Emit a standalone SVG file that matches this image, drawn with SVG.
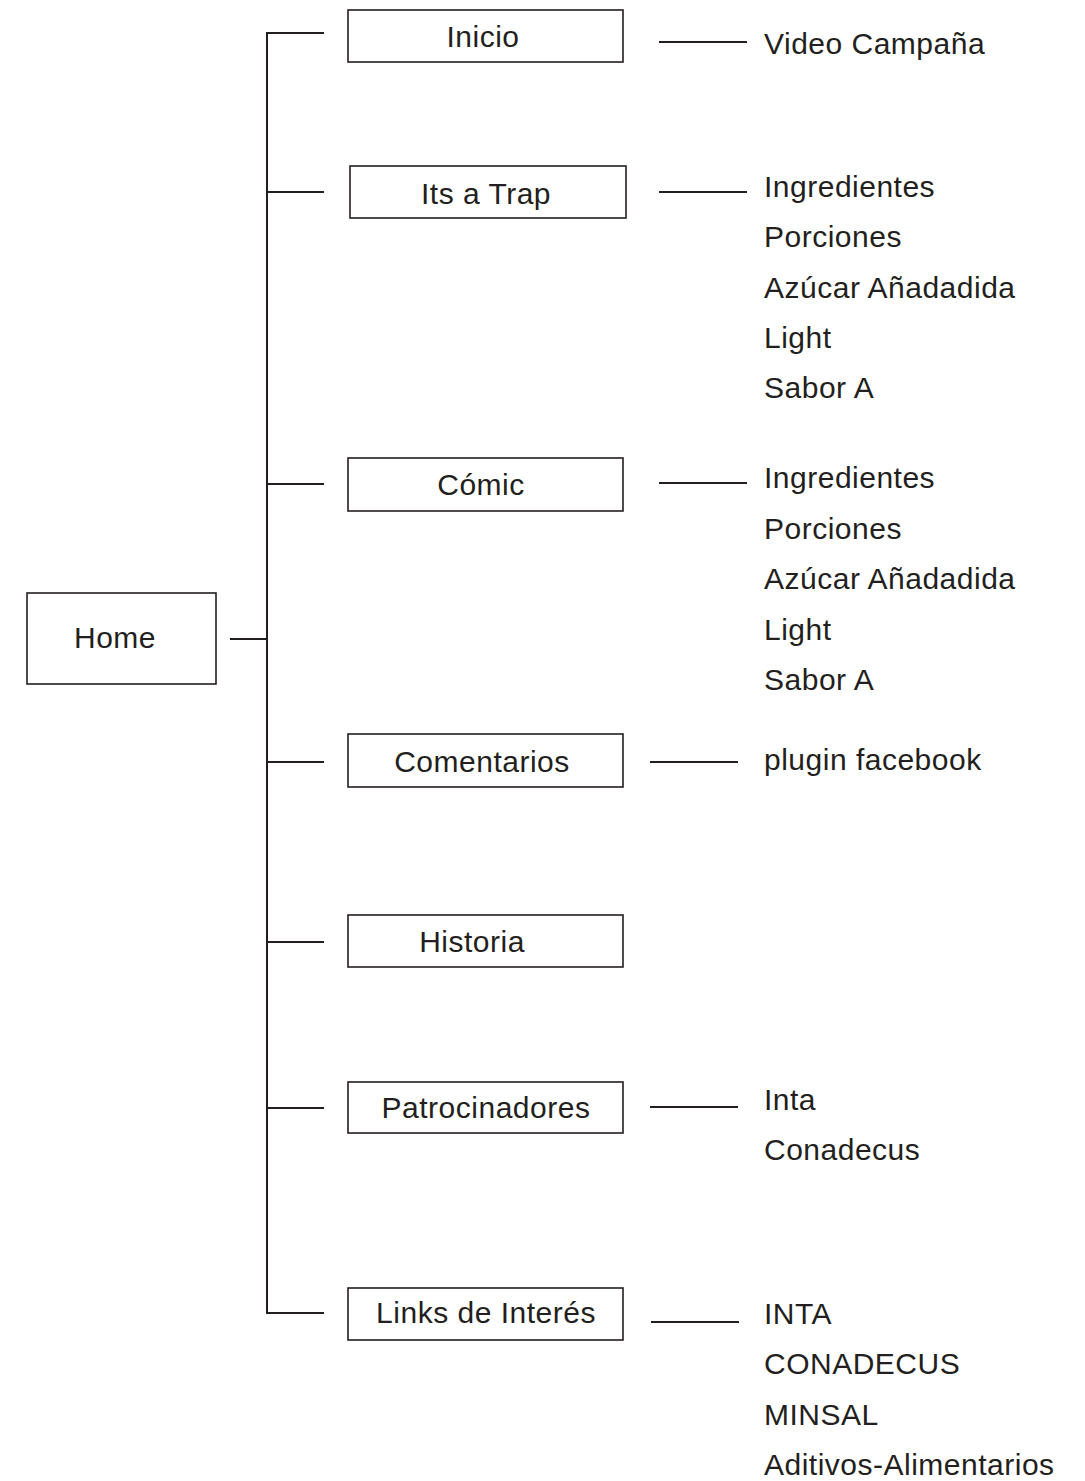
<svg xmlns="http://www.w3.org/2000/svg" width="1085" height="1481" viewBox="0 0 1085 1481">
  <style>
    .box { fill: #ffffff; stroke: #231f20; stroke-width: 1.6; }
    .wire { fill: none; stroke: #231f20; stroke-width: 2; }
    .lbl { font-family: "Liberation Sans", Arial, sans-serif; font-size: 30px; fill: #231f20; letter-spacing: 0.5px; }
    .mid { text-anchor: middle; }
  </style>
  <rect width="1085" height="1481" fill="#ffffff"/>

  <!-- connectors -->
  <g id="connectors" class="wire">
    <!-- trunk from Home to the section spine -->
    <path d="M230 639 H267"/>
    <path d="M267 33 V1313"/>
    <!-- spine to each section -->
    <path d="M266 33 H324"/>
    <path d="M267 192 H324"/>
    <path d="M267 484 H324"/>
    <path d="M267 762 H324"/>
    <path d="M267 942 H324"/>
    <path d="M267 1108 H324"/>
    <path d="M266 1313 H324"/>
    <!-- section to sub-items -->
    <path d="M659 42 H747"/>
    <path d="M659 192 H747"/>
    <path d="M659 483 H747"/>
    <path d="M650 762 H738"/>
    <path d="M650 1107 H738"/>
    <path d="M651 1322 H739"/>
  </g>

  <g id="home">
    <rect class="box" x="27" y="593" width="189" height="91"/>
    <text class="lbl mid" x="115" y="648">Home</text>
  </g>

  <g id="inicio">
    <rect class="box" x="348" y="10" width="275" height="52"/>
    <text class="lbl mid" x="483" y="47">Inicio</text>
    <text class="lbl" x="764" y="54">Video Campaña</text>
  </g>

  <g id="its-a-trap">
    <rect class="box" x="350" y="166" width="276" height="52"/>
    <text class="lbl mid" x="486" y="204">Its a Trap</text>
    <text class="lbl" x="764" y="197">Ingredientes</text>
    <text class="lbl" x="764" y="247">Porciones</text>
    <text class="lbl" x="764" y="298">Azúcar Añadadida</text>
    <text class="lbl" x="764" y="348">Light</text>
    <text class="lbl" x="764" y="398">Sabor A</text>
  </g>

  <g id="comic">
    <rect class="box" x="348" y="458" width="275" height="53"/>
    <text class="lbl mid" x="481" y="495">Cómic</text>
    <text class="lbl" x="764" y="488">Ingredientes</text>
    <text class="lbl" x="764" y="539">Porciones</text>
    <text class="lbl" x="764" y="589">Azúcar Añadadida</text>
    <text class="lbl" x="764" y="640">Light</text>
    <text class="lbl" x="764" y="690">Sabor A</text>
  </g>

  <g id="comentarios">
    <rect class="box" x="348" y="734" width="275" height="53"/>
    <text class="lbl mid" x="482" y="772">Comentarios</text>
    <text class="lbl" x="764" y="770">plugin facebook</text>
  </g>

  <g id="historia">
    <rect class="box" x="348" y="915" width="275" height="52"/>
    <text class="lbl mid" x="472" y="952">Historia</text>
  </g>

  <g id="patrocinadores">
    <rect class="box" x="348" y="1082" width="275" height="51"/>
    <text class="lbl mid" x="486" y="1118">Patrocinadores</text>
    <text class="lbl" x="764" y="1110">Inta</text>
    <text class="lbl" x="764" y="1160">Conadecus</text>
  </g>

  <g id="links">
    <rect class="box" x="348" y="1288" width="275" height="52"/>
    <text class="lbl mid" x="486" y="1323">Links de Interés</text>
    <text class="lbl" x="764" y="1324">INTA</text>
    <text class="lbl" x="764" y="1374">CONADECUS</text>
    <text class="lbl" x="764" y="1425">MINSAL</text>
    <text class="lbl" x="764" y="1475">Aditivos-Alimentarios</text>
  </g>
</svg>
